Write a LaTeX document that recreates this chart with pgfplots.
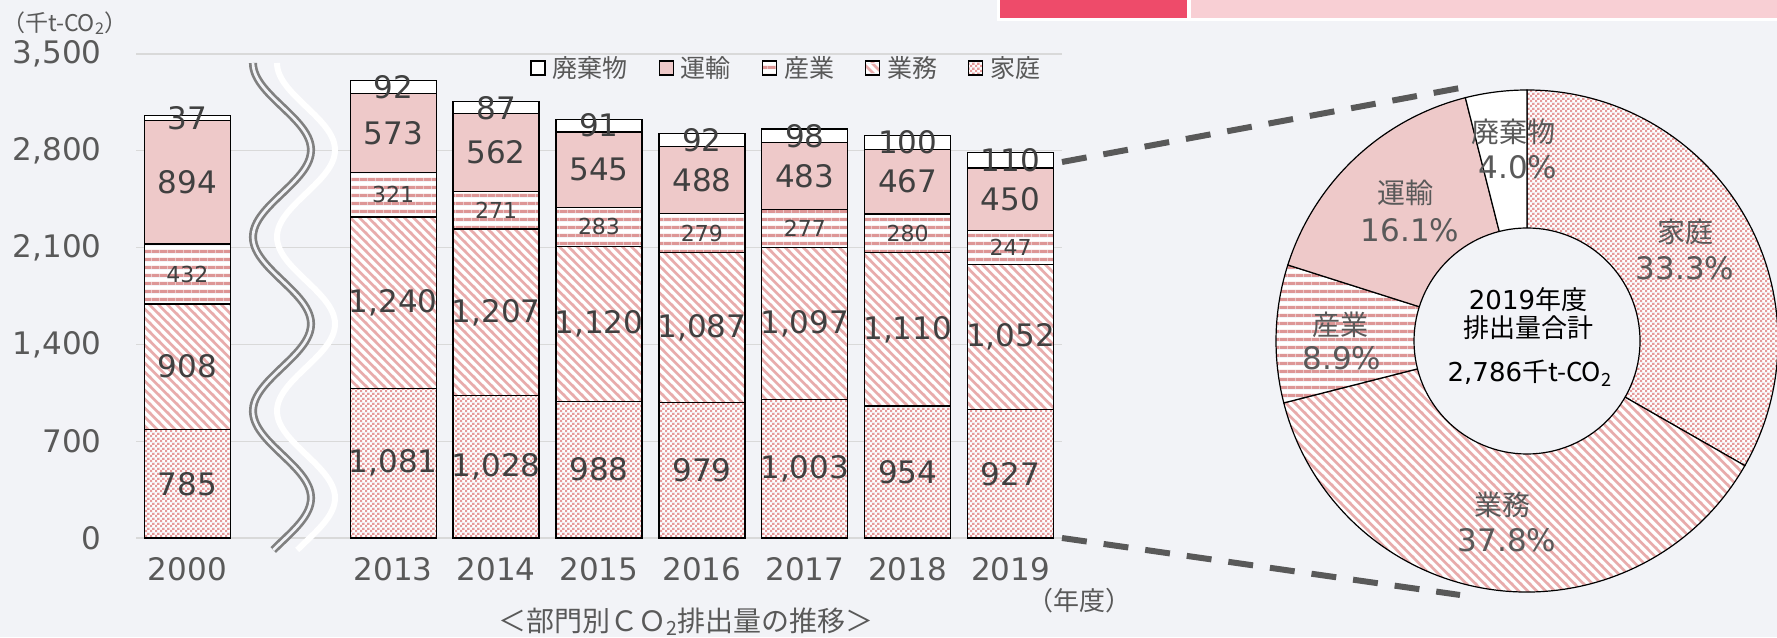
\documentclass[border=0pt]{standalone}
\usepackage{fontspec}
\setmainfont{DejaVu Sans}
\newfontfamily\jp{Noto Sans CJK JP}
\usepackage{pgfplots}
\pgfplotsset{compat=1.18}
\usetikzlibrary{patterns,calc}

\definecolor{bgc}{RGB}{242,243,247}
\definecolor{gridc}{RGB}{217,217,217}
\definecolor{tickc}{RGB}{89,89,89}
\definecolor{labc}{RGB}{64,64,64}
\definecolor{unyu}{RGB}{238,201,201}
\definecolor{stripec}{RGB}{221,150,150}
\definecolor{diagc}{RGB}{232,172,172}
\definecolor{checkc}{RGB}{230,155,155}
\definecolor{wavec}{RGB}{128,128,128}
\definecolor{dashc}{RGB}{89,89,89}
\definecolor{hdrred}{RGB}{238,75,106}
\definecolor{hdrpink}{RGB}{248,207,212}

% 産業: horizontal stripes
\pgfdeclarepatterninherentlycolored{sangyo}{\pgfpointorigin}{\pgfpoint{4pt}{4pt}}{\pgfpoint{4pt}{4pt}}{%
  \pgfsetfillcolor{white}\pgfpathrectangle{\pgfpointorigin}{\pgfpoint{4pt}{4pt}}\pgfusepath{fill}%
  \pgfsetfillcolor{stripec}\pgfpathrectangle{\pgfpointorigin}{\pgfpoint{4pt}{1.7pt}}\pgfusepath{fill}%
}
% 業務: diagonal stripes
\pgfdeclarepatterninherentlycolored{gyomu}{\pgfpointorigin}{\pgfpoint{4.7pt}{4.7pt}}{\pgfpoint{4.7pt}{4.7pt}}{%
  \pgfsetfillcolor{white}\pgfpathrectangle{\pgfpointorigin}{\pgfpoint{4.7pt}{4.7pt}}\pgfusepath{fill}%
  \pgfsetfillcolor{diagc}%
  \pgfpathmoveto{\pgfpoint{0pt}{3.7pt}}\pgfpathlineto{\pgfpoint{3.7pt}{0pt}}\pgfpathlineto{\pgfpoint{4.7pt}{0pt}}%
  \pgfpathlineto{\pgfpoint{4.7pt}{1pt}}\pgfpathlineto{\pgfpoint{1pt}{4.7pt}}\pgfpathlineto{\pgfpoint{0pt}{4.7pt}}\pgfpathclose
  \pgfpathmoveto{\pgfpointorigin}\pgfpathlineto{\pgfpoint{1pt}{0pt}}\pgfpathlineto{\pgfpoint{0pt}{1pt}}\pgfpathclose
  \pgfpathmoveto{\pgfpoint{4.7pt}{4.7pt}}\pgfpathlineto{\pgfpoint{3.7pt}{4.7pt}}\pgfpathlineto{\pgfpoint{4.7pt}{3.7pt}}\pgfpathclose
  \pgfusepath{fill}%
}
% 家庭: fine checks
\pgfdeclarepatterninherentlycolored{katei}{\pgfpointorigin}{\pgfpoint{2.5pt}{2.5pt}}{\pgfpoint{2.5pt}{2.5pt}}{%
  \pgfsetfillcolor{white}\pgfpathrectangle{\pgfpointorigin}{\pgfpoint{2.5pt}{2.5pt}}\pgfusepath{fill}%
  \pgfsetfillcolor{checkc}%
  \pgfpathrectangle{\pgfpointorigin}{\pgfpoint{1.25pt}{1.25pt}}%
  \pgfpathrectangle{\pgfpoint{1.25pt}{1.25pt}}{\pgfpoint{1.25pt}{1.25pt}}%
  \pgfusepath{fill}%
}

\newcommand\tkfont{\fontsize{15.5}{18}\selectfont}
\newcommand\smfont{\fontsize{11}{13}\selectfont}

\pgfplotsset{
  segbox/.style={draw=black, line width=0.65pt,
    legend image code/.code={\draw[##1, line width=0.6pt, draw=black] (0pt,-3.5pt) rectangle (7pt,3.5pt);}},
}

\begin{document}
\begin{tikzpicture}[x=0.5pt,y=0.5pt]
\fill[bgc] (0,0) rectangle (1777,637);
\useasboundingbox (0,0) rectangle (1777,637);
\fill[white] (997,616) rectangle (1777,637);
\fill[hdrred] (1000,619) rectangle (1187,637);
\fill[hdrpink] (1191,619) rectangle (1777,637);

\begin{axis}[
  at={(68pt,49.5pt)}, anchor=south west,
  scale only axis, width=463pt, height=242pt,
  xmin=-0.5, xmax=8.5, ymin=0, ymax=3500,
  ybar stacked, bar width=43pt,
  ytick={0,700,1400,2100,2800,3500},
  xtick={0,2,3,4,5,6,7,8},
  xticklabels={2000,2013,2014,2015,2016,2017,2018,2019},
  axis line style={draw=none},
  major tick length=0pt,
  ymajorgrids, major grid style={draw=gridc, line width=0.65pt},
  tick label style={font=\tkfont, text=tickc, inner sep=0pt},
  yticklabel style={anchor=east, xshift=-17pt},
  xticklabel style={anchor=north, yshift=-9.75pt},
  /pgf/number format/assume math mode=true,
  /pgf/number format/1000 sep={,},
  clip=false,
  nodes near coords,
  every node near coord/.append style={font=\tkfont, text=labc, anchor=center, inner sep=0pt},
  legend columns=-1, reverse legend,
  legend style={at={(0.4255,0.971)}, anchor=west, draw=none, fill=none, inner sep=0pt,
    font=\jp\fontsize{12.5}{14}\selectfont, text=tickc,
    nodes={inner sep=0pt},
    /tikz/every odd column/.append style={column sep=3.5pt},
    /tikz/every even column/.append style={column sep=15.5pt}},
]
\addplot[segbox, pattern=katei] coordinates {(0,785) (2,1081) (3,1028) (4,988) (5,979) (6,1003) (7,954) (8,927)};
\addlegendentry{家庭}
\addplot[segbox, pattern=gyomu] coordinates {(0,908) (2,1240) (3,1207) (4,1120) (5,1087) (6,1097) (7,1110) (8,1052)};
\addlegendentry{業務}
\addplot[segbox, pattern=sangyo, every node near coord/.append style={font=\smfont}] coordinates {(0,432) (2,321) (3,271) (4,283) (5,279) (6,277) (7,280) (8,247)};
\addlegendentry{産業}
\addplot[segbox, fill=unyu] coordinates {(0,894) (2,573) (3,562) (4,545) (5,488) (6,483) (7,467) (8,450)};
\addlegendentry{運輸}
\addplot[segbox, fill=white] coordinates {(0,37) (2,92) (3,87) (4,91) (5,92) (6,98) (7,100) (8,110)};
\addlegendentry{廃棄物}
\end{axis}

% axis break
\draw[wavec, line width=1.35pt, double=bgc, double distance=1.35pt]
  plot[domain=63:550, samples=160, variable=\t] ({282+29*cos(2.069*(\t-150))}, {637-\t});
\draw[white, line width=3pt]
  plot[domain=63:550, samples=160, variable=\t] ({306+29*cos(2.069*(\t-150))}, {637-\t});

% connectors
\draw[dashc, line width=3pt, dash pattern=on 12.5pt off 8.5pt] (1062,475) -- (1460,549);
\draw[dashc, line width=3pt, dash pattern=on 12.5pt off 8.5pt] (1062,99) -- (1460,42);

% donut of 2019
\pgfmathsetmacro\tot{927+1052+247+450+110}
\pgfmathsetmacro\aA{90}
\pgfmathsetmacro\aB{\aA-360*(927/\tot)}
\pgfmathsetmacro\aC{\aB-360*(1052/\tot)}
\pgfmathsetmacro\aD{\aC-360*(247/\tot)}
\pgfmathsetmacro\aE{\aD-360*(450/\tot)}
\pgfmathsetmacro\aF{\aE-360*(110/\tot)}
\begin{axis}[
  at={(763.5pt,148pt)}, anchor=center, hide axis, scale only axis,
  x=0.5pt, y=0.5pt, xmin=-251, xmax=251, ymin=-251, ymax=251, clip=false]
\coordinate (dc) at (axis cs:0,0);
\draw[pattern=katei, draw=black, line width=0.6pt] (dc) -- ++(\aA:125.5pt) arc[start angle=\aA, end angle=\aB, radius=125.5pt] -- cycle;
\draw[pattern=gyomu, draw=black, line width=0.6pt] (dc) -- ++(\aB:125.5pt) arc[start angle=\aB, end angle=\aC, radius=125.5pt] -- cycle;
\draw[pattern=sangyo, draw=black, line width=0.6pt] (dc) -- ++(\aC:125.5pt) arc[start angle=\aC, end angle=\aD, radius=125.5pt] -- cycle;
\draw[fill=unyu, draw=black, line width=0.6pt] (dc) -- ++(\aD:125.5pt) arc[start angle=\aD, end angle=\aE, radius=125.5pt] -- cycle;
\draw[fill=white, draw=black, line width=0.6pt] (dc) -- ++(\aE:125.5pt) arc[start angle=\aE, end angle=\aF, radius=125.5pt] -- cycle;
\draw[fill=bgc, draw=black, line width=0.6pt] (dc) circle[radius=56.5pt];
\end{axis}

\begin{scope}[every node/.style={text=tickc, inner sep=0pt}]
\node[font=\jp\fontsize{14}{16}\selectfont] at (1513,505) {廃棄物};
\node[font=\tkfont] at (1518,470) {4.0\%};
\node[font=\jp\fontsize{14}{16}\selectfont] at (1405,444) {運輸};
\node[font=\tkfont] at (1410,407) {16.1\%};
\node[font=\jp\fontsize{14}{16}\selectfont] at (1685,405) {家庭};
\node[font=\tkfont] at (1685,369) {33.3\%};
\node[font=\jp\fontsize{14}{16}\selectfont] at (1340,312) {産業};
\node[font=\tkfont] at (1342,279) {8.9\%};
\node[font=\jp\fontsize{14}{16}\selectfont] at (1502,132) {業務};
\node[font=\tkfont] at (1507,97) {37.8\%};

\node[font=\jp\fontsize{11.5}{13}\selectfont] at (65,614) {（千t-CO\textsubscript{2}）};
\node[font=\jp\fontsize{13}{15}\selectfont] at (1079,36) {（年度）};
\node[font=\jp\fontsize{14}{16}\selectfont] at (686,15) {＜部門別ＣＯ\textsubscript{2}排出量の推移＞};
\end{scope}

\begin{scope}[every node/.style={text=black, inner sep=0pt}]
\node[font=\fontsize{13}{15}\selectfont] at (1528,337) {2019{\jp 年度}};
\node[font=\jp\fontsize{13}{15}\selectfont] at (1528,309) {排出量合計};
\node[font=\fontsize{13}{15}\selectfont] at (1530,264) {2,786{\jp 千t-CO\textsubscript{2}}};
\end{scope}
\end{tikzpicture}
\end{document}
